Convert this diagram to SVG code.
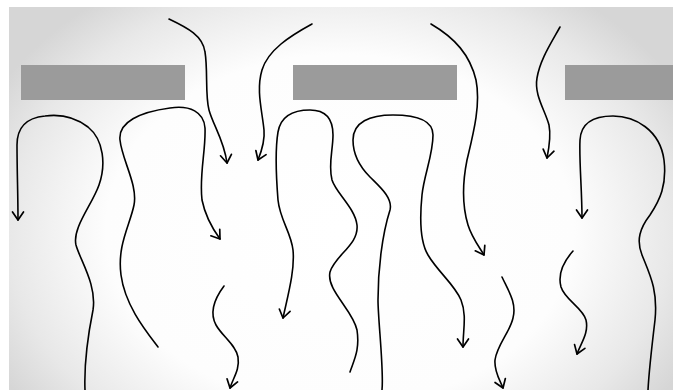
<svg xmlns="http://www.w3.org/2000/svg" width="673" height="390" viewBox="0 0 673 390">
<defs>
<radialGradient id="bg" gradientUnits="userSpaceOnUse" cx="340" cy="230" r="390" gradientTransform="translate(340 230) scale(1 0.75) translate(-340 -230)">
<stop offset="0" stop-color="#ffffff"/>
<stop offset="0.6" stop-color="#fdfdfd"/>
<stop offset="0.85" stop-color="#e8e8e8"/>
<stop offset="1" stop-color="#d6d6d6"/>
</radialGradient>
<marker id="ah" markerUnits="userSpaceOnUse" markerWidth="20" markerHeight="20" viewBox="-10 -10 20 20" refX="0" refY="0" orient="auto" overflow="visible">
<path d="M-8,-5.5 L0,0 L-8,5.5" fill="none" stroke="#000" stroke-width="1.7" stroke-linecap="round" stroke-linejoin="round"/>
</marker>
</defs>
<style>
.box{fill:#9b9b9b}
.c{fill:none;stroke:#000;stroke-width:1.6;stroke-linecap:round;stroke-linejoin:round}
.a{marker-end:url(#ah)}
</style>
<rect x="0" y="0" width="673" height="390" fill="#ffffff"/>
<rect x="9" y="7" width="664" height="383" fill="url(#bg)"/>
<g id="box1"><rect class="box" x="21" y="65" width="164" height="35"/></g>
<g id="box2"><rect class="box" x="293" y="65" width="164" height="35"/></g>
<g id="box3"><rect class="box" x="565" y="65" width="108" height="35"/></g>
<g id="connectors">
<path class="c a" d="M169,19 C188,28 203,36 205,52 C208,70 205,95 209,110 C213,125 224,140 227,163"/>
<path class="c a" d="M312,24 C290,36 268,50 262,70 C256,90 262,110 264,130 C265,140 262,150 258,160"/>
<path class="c a" d="M431,24 C455,38 470,55 476,80 C481,105 473,135 467,160 C462,185 462,205 468,225 C472,238 480,248 484,255"/>
<path class="c a" d="M560,27 C550,45 540,60 537,78 C534,95 545,110 549,125 C551,135 549,148 547,158"/>
<path class="c a" d="M85,390 C84,365 88,335 93,310 C97,285 80,260 76,245 C72,228 92,205 99,185 C106,165 104,140 88,127 C75,117 60,114 45,116 C25,118 17,128 17,145 C17,170 18,195 18,220"/>
<path class="c a" d="M158,347 C145,330 125,305 121,275 C117,245 130,225 134,205 C138,185 122,160 120,140 C118,122 140,112 170,108 C190,105 204,112 205,128 C206,150 199,175 202,200 C205,215 212,228 220,239"/>
<path class="c a" d="M224,286 C215,298 209,312 216,325 C222,336 236,345 238,357 C240,370 233,378 230,388"/>
<path class="c a" d="M350,372 C354,360 360,350 357,330 C353,310 326,290 330,272 C335,255 359,245 357,225 C355,208 336,193 332,180 C328,165 333,150 333,135 C333,118 325,110 310,110 C295,110 281,115 278,132 C275,150 276,175 278,200 C280,220 291,232 293,250 C295,270 288,295 283,318"/>
<path class="c a" d="M382,390 C384,370 378,320 378,300 C378,270 382,235 390,210 C393,198 380,187 370,177 C360,167 353,155 353,140 C353,122 370,115 393,115 C415,115 433,120 433,135 C433,155 424,175 422,195 C420,215 419,240 428,255 C438,272 455,285 461,300 C467,315 463,330 463,347"/>
<path class="c a" d="M502,277 C508,290 517,303 513,318 C510,332 497,345 495,360 C494,372 500,380 503,388"/>
<path class="c a" d="M573,251 C565,260 557,272 561,287 C565,300 583,308 586,320 C589,333 581,343 577,354"/>
<path class="c a" d="M648,390 C649,370 652,345 655,320 C658,290 650,275 642,255 C636,240 640,228 650,215 C660,200 667,185 664,160 C660,130 635,116 613,116 C595,116 581,122 580,140 C579,160 582,190 582,218"/>
</g>
</svg>
